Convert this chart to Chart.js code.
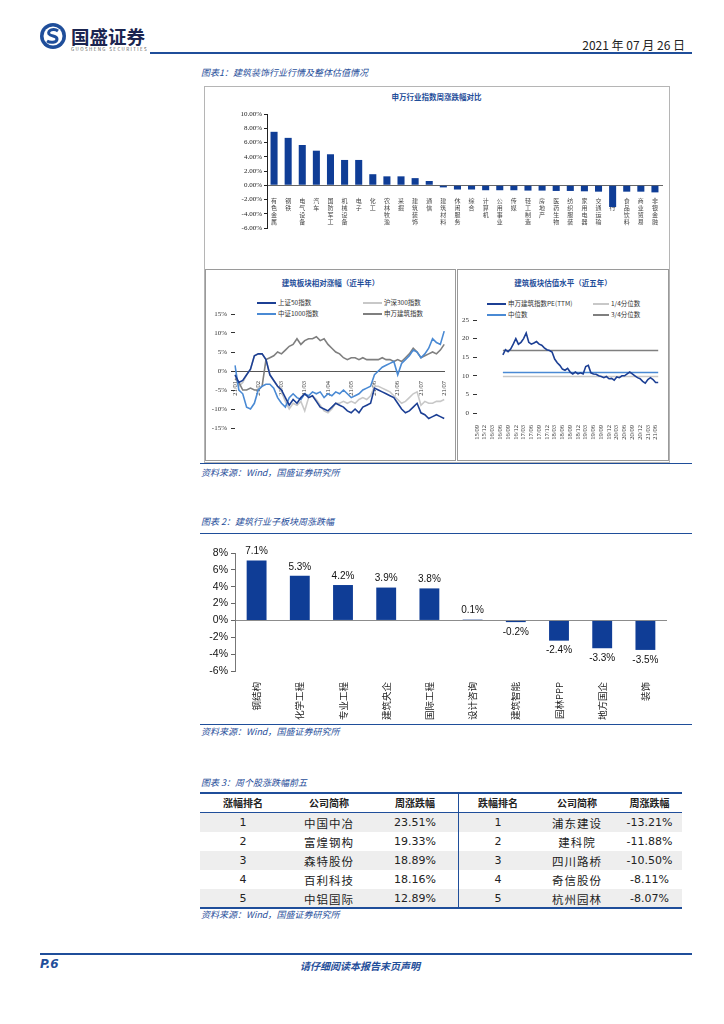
<!DOCTYPE html>
<html>
<head>
<meta charset="utf-8">
<script src="https://cdn.jsdelivr.net/npm/chart.js@4.4.0/dist/chart.umd.min.js"></script>
<style>
body { margin: 0; background: #fff; }
#page { position: relative; width: 724px; height: 1024px; overflow: hidden; font-family: 'Noto Sans CJK SC', sans-serif; }
.abs { position: absolute; white-space: nowrap; }
.cap { position: absolute; font-size: 9px; font-style: italic; color: #1f4e9a; white-space: nowrap; }
.hline { position: absolute; background: #1f4e9a; }
.box { position: absolute; border: 1px solid #b5b5b5; box-sizing: border-box; }
.ptitle { position: absolute; font-size: 7.5px; font-weight: bold; color: #1f4e9a; text-align: center; }
.leg { position: absolute; font-size: 6.5px; color: #333; white-space: nowrap; line-height: 8px; }
.leg i { display: inline-block; width: 19px; height: 2px; vertical-align: middle; margin-right: 2px; }
canvas { position: absolute; }
table { position: absolute; border-collapse: collapse; font-size: 11.5px; }
td, th { height: 19px; padding: 0; text-align: center; }
th { font-size: 10px; font-weight: bold; color: #222; border-bottom: 1.5px solid #1f4e9a; }
td { font-family: 'Noto Sans CJK SC', sans-serif; color: #222; letter-spacing: 1px; }
td.num { font-family: 'DejaVu Sans', sans-serif; font-size: 11px; letter-spacing: 0; }
tr.g td { background: #eeeeee; }
.sep { border-right: 1.5px solid #1f4e9a; }
</style>
</head>
<body>
<div id="page">
  <!-- header -->
  <svg class="abs" style="left:39px;top:22px" width="28" height="28" viewBox="0 0 28 28">
    <circle cx="14" cy="14" r="13" fill="#1f4e9a"/>
    <circle cx="14" cy="14" r="9.5" fill="#fff"/>
    <path d="M19 9 C15 6 8 8 10 12 C12 15 18 13 18 17 C18 21 11 21 8 19" stroke="#1f4e9a" stroke-width="3" fill="none"/>
  </svg>
  <div class="abs" style="left:71px;top:23px;font-size:18.5px;font-weight:bold;color:#1b2550">国盛证券</div>
  <div class="abs" style="left:71px;top:46px;font-size:4.5px;color:#555;letter-spacing:1.4px">GUOSHENG SECURITIES</div>
  <div class="abs" style="left:560px;width:125px;top:36px;font-size:12px;color:#222;text-align:right">2021 年 07 月 26 日</div>
  <div class="hline" style="left:150px;top:52px;width:542px;height:2px"></div>

  <div class="cap" style="left:201px;top:66px">图表1：建筑装饰行业行情及整体估值情况</div>

  <!-- chart 1 frame -->
  <div class="box" style="left:204px;top:86px;width:466px;height:377px"></div>
  <div class="box" style="left:205px;top:269px;width:251px;height:192px;border-color:#9a9a9a"></div>
  <div class="box" style="left:457px;top:269px;width:212px;height:192px;border-color:#9a9a9a"></div>

  <div class="ptitle" style="left:205px;width:463px;top:91px">申万行业指数周涨跌幅对比</div>
  <canvas id="swChart" width="463" height="180" style="left:205px;top:88px"></canvas>

  <div class="ptitle" style="left:205px;width:251px;top:277px">建筑板块相对涨幅（近半年）</div>
  <div class="leg" style="left:257px;top:298px"><i style="background:#1c3f94"></i>上证50指数</div>
  <div class="leg" style="left:363px;top:298px"><i style="background:#c8c8c8"></i>沪深300指数</div>
  <div class="leg" style="left:257px;top:309px"><i style="background:#4a8ad4"></i>中证1000指数</div>
  <div class="leg" style="left:363px;top:309px"><i style="background:#7f7f7f"></i>申万建筑指数</div>
  <canvas id="halfChart" width="248" height="150" style="left:206px;top:305px"></canvas>

  <div class="ptitle" style="left:457px;width:212px;top:277px">建筑板块估值水平（近五年）</div>
  <div class="leg" style="left:487px;top:299px"><i style="background:#1c3f94"></i>申万建筑指数PE(TTM)</div>
  <div class="leg" style="left:593px;top:299px"><i style="background:#c8c8c8;width:16px"></i>1/4分位数</div>
  <div class="leg" style="left:487px;top:310px"><i style="background:#4a8ad4"></i>中位数</div>
  <div class="leg" style="left:593px;top:310px"><i style="background:#7f7f7f;width:16px"></i>3/4分位数</div>
  <canvas id="peChart" width="212" height="148" style="left:458px;top:310px"></canvas>

  <div class="hline" style="left:200px;top:463px;width:492px;height:1px"></div>
  <div class="cap" style="left:201px;top:466px">资料来源：Wind，国盛证券研究所</div>

  <!-- chart 2 -->
  <div class="cap" style="left:201px;top:515px">图表 2：建筑行业子板块周涨跌幅</div>
  <div class="hline" style="left:200px;top:533px;width:492px;height:1px"></div>
  <canvas id="subChart" width="484" height="184" style="left:196px;top:540px"></canvas>
  <div class="hline" style="left:200px;top:724px;width:492px;height:1px"></div>
  <div class="cap" style="left:201px;top:725px">资料来源：Wind，国盛证券研究所</div>

  <!-- table -->
  <div class="cap" style="left:201px;top:776px">图表 3：周个股涨跌幅前五</div>
  <div class="hline" style="left:200px;top:792px;width:482px;height:1.5px"></div>
  <table id="topTable" style="left:200px;top:793px;width:482px"></table>
  <div class="hline" style="left:200px;top:907px;width:482px;height:1.5px"></div>
  <div class="cap" style="left:201px;top:908px">资料来源：Wind，国盛证券研究所</div>

  <!-- footer -->
  <div class="hline" style="left:40px;top:953px;width:652px;height:2px"></div>
  <div class="abs" style="left:40px;top:957px;font-size:12px;font-weight:bold;font-style:italic;color:#1f4e9a;font-family:'DejaVu Sans',sans-serif">P.6</div>
  <div class="abs" style="left:200px;width:320px;top:958px;font-size:10px;font-weight:bold;font-style:italic;color:#1f4e9a;text-align:center">请仔细阅读本报告末页声明</div>
</div>

<script>
// ---- 申万一级行业周涨跌幅 (%)
const swNames = ['有色金属', '钢铁', '电气设备', '汽车', '国防军工', '机械设备', '电子', '化工',
  '农林牧渔', '采掘', '建筑装饰', '通信', '建筑材料', '休闲服务', '综合', '计算机', '公用事业',
  '传媒', '轻工制造', '房地产', '医药生物', '纺织服装', '家用电器', '交通运输', '银行',
  '食品饮料', '商业贸易', '非银金融'];
const swChange = [7.5, 6.65, 5.65, 4.85, 4.35, 3.55, 3.55, 1.55, 1.25, 1.25, 1.0, 0.6,
  -0.3, -0.6, -0.6, -0.7, -0.7, -0.7, -0.75, -0.75, -0.8, -0.8, -0.85, -0.9, -3.05, -0.9, -0.9, -1.0];

// ---- 近半年相对涨幅 (%)
const halfTicks = ['21/01', '21/02', '21/03', '21/03', '21/04', '21/05', '21/06', '21/06', '21/07', '21/07'];
const sse50 = [-1, -3, -2.5, -1, 0.5, 4, 4.5, 4.5, 3, -1, -2.5, -4, -5, -7, -9, -7.5, -8.5, -7, -6, -7,
  -6.5, -8, -9.5, -10, -10.5, -9.5, -8.5, -9, -9.5, -10.5, -11, -10, -11, -9.5, -9, -8.5, -4.5, -5, -5.5, -6,
  -6.5, -7, -8.5, -10, -11, -10.5, -9.5, -8.5, -11, -11.5, -12.5, -12, -11.5, -12, -12.5];
const hs300 = [-1, -4, -3, -1, 0.5, 4, 4.5, 4.5, 3, -1, -2.5, -4, -5.5, -8, -10, -8.5, -9, -8, -10.5, -7,
  -6.5, -7.5, -9, -10.5, -11, -10, -8.5, -8.5, -8, -8.5, -8, -8.5, -7.5, -7, -7.5, -6.5, -4, -4, -4.5, -5,
  -5.5, -6.5, -7.5, -8.5, -8, -7, -6, -5.5, -9, -8, -8.5, -8.5, -8, -8, -7.5];
const csi1000 = [1.5, -5, -6, -9.5, -10, -8.5, -5, -4, -3.5, -3.5, -4.5, -7, -8.5, -9.5, -7, -6, -7, -7.5, -6, -6.5,
  -5.5, -6, -5.5, -7, -6, -6.5, -5.5, -6, -5, -6, -7, -6.5, -6, -5, -4.5, -4, -1, 0, 1, 1.5,
  2, 2.5, -1, 2, 3, 4, 5.5, 5, 3.5, 4.5, 6, 8.5, 7.5, 7, 10.5];
const swBuild = [-2, -3, -5, -5, -4.5, -5, -5, -4, 3, 3.5, 4, 5, 4.5, 5.5, 6.5, 7, 8.5, 7, 8, 8.5,
  8.5, 9, 8, 8.5, 7, 6, 5, 4.5, 3.5, 3, 3.5, 3.5, 3, 3.5, 3, 3, 3, 3, 3.5, 3,
  3, 2.5, 3, 2.5, 3.5, 4.5, 6, 5, 3.5, 4, 4.5, 5, 4.5, 5.5, 7];

// ---- 近五年估值 PE(TTM), 月度, 从 16/07 开始
const peTicks = ['15/09', '15/12', '16/03', '16/06', '16/09', '16/12', '17/03', '17/06', '17/09', '17/12',
  '18/03', '18/06', '18/09', '18/12', '19/03', '19/06', '19/09', '19/12', '20/03', '20/06', '20/09',
  '20/12', '21/03', '21/06'];
const peStart = '16/07';
const peEnd = '21/07';
const peValues = [15.6, 17.0, 16.5, 17.2, 18.5, 20.0, 18.5, 19.0, 20.0, 21.5, 19.0, 18.5, 18.8, 19.2, 18.5,
  18.2, 17.5, 17.0, 16.8, 16.4, 14.5, 13.5, 12.8, 11.8, 11.5, 12.0, 11.0, 10.5, 11.0, 10.5, 10.8, 10.5,
  12.5, 12.8, 10.8, 10.5, 10.4, 10.0, 9.8, 9.5, 9.8, 9.2, 9.3, 8.8, 9.7, 9.5, 10.0, 10.0, 10.5, 11.0,
  10.5, 10.0, 9.5, 9.2, 8.5, 8.0, 9.0, 9.5, 9.0, 8.2, 8.2];
const peQ1 = 9.8;
const peMedian = 10.9;
const peQ3 = 16.8;

// ---- 建筑子板块周涨跌幅 (%)
const subNames = ['钢结构', '化学工程', '专业工程', '建筑央企', '国际工程', '设计咨询', '建筑智能', '园林PPP', '地方国企', '装饰'];
const subChange = [7.1, 5.3, 4.2, 3.9, 3.8, 0.1, -0.2, -2.4, -3.3, -3.5];

// ---- 个股涨跌幅前五
const tableHeader = ['涨幅排名', '公司简称', '周涨跌幅', '跌幅排名', '公司简称', '周涨跌幅'];
const gainNames = ['中国中冶', '富煌钢构', '森特股份', '百利科技', '中铝国际'];
const gainPct = ['23.51%', '19.33%', '18.89%', '18.16%', '12.89%'];
const lossNames = ['浦东建设', '建科院', '四川路桥', '奇信股份', '杭州园林'];
const lossPct = ['-13.21%', '-11.88%', '-10.50%', '-8.11%', '-8.07%'];

const DARK = '#1c3f94';
const BAR = '#0f3d96';
const serif = 'Liberation Serif';
const cjk = 'Noto Sans CJK SC';

// 申万行业柱状图 (每个字一行, 竖排)
new Chart(document.getElementById('swChart'), {
  type: 'bar',
  data: {
    labels: swNames.map(n => n.split('')),
    datasets: [{ data: swChange, backgroundColor: BAR, barPercentage: 0.5, categoryPercentage: 1 }]
  },
  options: {
    responsive: false,
    animation: false,
    layout: { padding: { left: 0, right: 6, top: 26, bottom: 40 } },
    plugins: { legend: { display: false }, tooltip: { enabled: false } },
    scales: {
      x: {
        position: { y: 0 },
        z: 1,
        grid: { display: false },
        border: { color: '#666' },
        ticks: { autoSkip: false, maxRotation: 0, minRotation: 0, padding: 4, color: '#444',
          font: { size: 6, family: cjk, lineHeight: 1.15 } }
      },
      y: {
        min: -6, max: 10,
        afterFit: s => { s.width = 62; },
        grid: { drawOnChartArea: false, tickLength: 3, color: '#222' },
        border: { color: '#222' },
        ticks: { stepSize: 2, padding: 2, color: '#222', font: { size: 7, family: serif },
          callback: v => v.toFixed(2) + '%' }
      }
    }
  }
});

// 近半年相对涨幅
const halfStep = (sse50.length - 1) / (halfTicks.length - 1);
const halfLabels = sse50.map((_, i) => (i % halfStep === 0 ? halfTicks[i / halfStep] : ''));
const lineDs = (label, data, color, order) => ({
  label, data, borderColor: color, borderWidth: 1.6, pointRadius: 0, tension: 0, order
});
new Chart(document.getElementById('halfChart'), {
  type: 'line',
  data: {
    labels: halfLabels,
    datasets: [
      lineDs('上证50指数', sse50, DARK, 0),
      lineDs('沪深300指数', hs300, '#c8c8c8', 3),
      lineDs('中证1000指数', csi1000, '#4a8ad4', 1),
      lineDs('申万建筑指数', swBuild, '#7f7f7f', 2)
    ]
  },
  options: {
    responsive: false,
    animation: false,
    layout: { padding: { left: 0, right: 6, top: 9, bottom: 27 } },
    plugins: { legend: { display: false }, tooltip: { enabled: false } },
    scales: {
      x: {
        position: { y: 0 },
        grid: { display: false },
        border: { color: '#555' },
        ticks: { autoSkip: false, maxRotation: 90, minRotation: 90, padding: 2, color: '#333',
          font: { size: 6.5, family: serif } }
      },
      y: {
        min: -15, max: 15,
        afterFit: s => { s.width = 29; },
        grid: { drawOnChartArea: false, tickLength: 4, color: '#333' },
        border: { display: false },
        ticks: { stepSize: 5, padding: 4, color: '#333', font: { size: 7, family: serif },
          callback: v => v + '%' }
      }
    }
  }
});

// 近五年估值
const peLabels = [];
{
  let y = parseInt(peTicks[0].slice(0, 2)), m = parseInt(peTicks[0].slice(3));
  while (true) {
    const lab = String(y).padStart(2, '0') + '/' + String(m).padStart(2, '0');
    peLabels.push(lab);
    if (lab === peEnd) break;
    m++; if (m > 12) { m = 1; y++; }
  }
}
const peOffset = peLabels.indexOf(peStart);
const peSeries = peLabels.map((_, i) => (i < peOffset ? null : peValues[i - peOffset]));
const refLine = (label, v, color, order) => ({
  label, data: [{ x: peStart, y: v }, { x: peEnd, y: v }],
  borderColor: color, borderWidth: 1.6, pointRadius: 0, order
});
new Chart(document.getElementById('peChart'), {
  type: 'line',
  data: {
    labels: peLabels,
    datasets: [
      { label: '申万建筑指数PE(TTM)', data: peSeries, borderColor: DARK, borderWidth: 1.6, pointRadius: 0, order: 0 },
      refLine('1/4分位数', peQ1, '#c8c8c8', 3),
      refLine('中位数', peMedian, '#4a8ad4', 2),
      refLine('3/4分位数', peQ3, '#7f7f7f', 1)
    ]
  },
  options: {
    responsive: false,
    animation: false,
    layout: { padding: { left: 0, right: 1, top: 10, bottom: 0 } },
    plugins: { legend: { display: false }, tooltip: { enabled: false } },
    scales: {
      x: {
        afterFit: s => { s.height = 45; },
        grid: { display: false },
        border: { display: false },
        ticks: { autoSkip: false, maxRotation: 90, minRotation: 90, padding: 4, color: '#333',
          font: { size: 6.5, family: serif },
          callback: function (v) { const l = this.getLabelForValue(v); return peTicks.includes(l) ? l : ''; } }
      },
      y: {
        min: 0, max: 25,
        afterFit: s => { s.width = 19; },
        grid: { drawOnChartArea: false, tickLength: 4, color: '#333' },
        border: { display: false },
        ticks: { stepSize: 5, padding: 4, color: '#333', font: { size: 7, family: serif } }
      }
    }
  }
});

// 子板块柱状图 + 数值标签
const valueLabels = {
  id: 'valueLabels',
  afterDatasetsDraw(chart) {
    const ctx = chart.ctx;
    ctx.save();
    ctx.font = '10px "Liberation Sans"';
    ctx.fillStyle = '#111';
    ctx.textAlign = 'center';
    chart.getDatasetMeta(0).data.forEach((bar, i) => {
      const v = chart.data.datasets[0].data[i];
      if (v >= 0) { ctx.textBaseline = 'bottom'; ctx.fillText(v.toFixed(1) + '%', bar.x, bar.y - 4); }
      else { ctx.textBaseline = 'top'; ctx.fillText(v.toFixed(1) + '%', bar.x, bar.y + 5); }
    });
    ctx.restore();
  }
};
new Chart(document.getElementById('subChart'), {
  type: 'bar',
  data: {
    labels: subNames,
    datasets: [{ data: subChange, backgroundColor: BAR, barPercentage: 0.46, categoryPercentage: 1 }]
  },
  options: {
    responsive: false,
    animation: false,
    layout: { padding: { left: 0, right: 13, top: 13, bottom: 0 } },
    plugins: { legend: { display: false }, tooltip: { enabled: false } },
    scales: {
      x: {
        afterFit: s => { s.height = 53; },
        grid: { display: false },
        border: { display: false },
        ticks: { autoSkip: false, maxRotation: 90, minRotation: 90, padding: 3, color: '#222',
          font: { size: 9.5, family: cjk } }
      },
      y: {
        min: -6, max: 8,
        afterFit: s => { s.width = 39; },
        grid: {
          drawOnChartArea: true, tickLength: 4, tickColor: '#666',
          color: c => (c.tick && c.tick.value === 0 ? '#8c8c8c' : 'rgba(0,0,0,0)')
        },
        border: { color: '#777' },
        ticks: { stepSize: 2, padding: 3, color: '#111', font: { size: 10.5, family: 'Liberation Sans' },
          callback: v => v + '%' }
      }
    }
  },
  plugins: [valueLabels]
});

// 表格
const tbl = document.getElementById('topTable');
let html = '<tr>' + tableHeader.map((h, i) => `<th${i === 2 ? ' class="sep"' : ''}>${h}</th>`).join('') + '</tr>';
gainNames.forEach((_, i) => {
  html += `<tr class="${i % 2 === 0 ? 'g' : ''}">` +
    `<td class="num" style="width:86px">${i + 1}</td>` +
    `<td style="width:86px">${gainNames[i]}</td>` +
    `<td class="num sep" style="width:86px">${gainPct[i]}</td>` +
    `<td class="num" style="width:78px">${i + 1}</td>` +
    `<td style="width:80px">${lossNames[i]}</td>` +
    `<td class="num">${lossPct[i]}</td></tr>`;
});
tbl.innerHTML = html;
</script>
</body>
</html>
